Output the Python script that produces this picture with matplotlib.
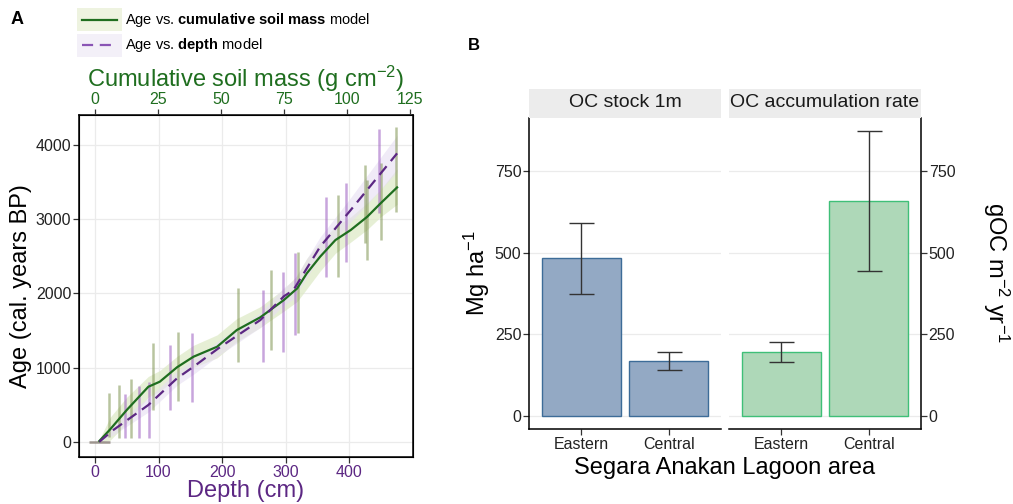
import matplotlib.pyplot as plt
from matplotlib.patches import Rectangle
from matplotlib.lines import Line2D

plt.rcParams['font.family'] = ['Liberation Sans', 'DejaVu Sans']
plt.rcParams['mathtext.fontset'] = 'custom'
plt.rcParams['mathtext.rm'] = 'Liberation Sans'
plt.rcParams['mathtext.bf'] = 'Liberation Sans:bold'
plt.rcParams['mathtext.it'] = 'Liberation Sans:italic'

# ---- panel A data (depth cm, age cal. yr BP) ----
mass_depth = [7, 24, 50, 84, 102, 129, 155, 192, 223, 260, 297, 318, 333, 354, 378, 402, 428, 449, 475]
mass_age = [10, 167, 427, 741, 809, 1003, 1146, 1280, 1505, 1677, 1910, 2067, 2269, 2494, 2718, 2853, 3032, 3213, 3428]
mass_lo = [0, 20, 250, 600, 680, 860, 1000, 1130, 1350, 1540, 1760, 1890, 2060, 2300, 2540, 2690, 2860, 3030, 3200]
mass_hi = [30, 330, 600, 880, 960, 1150, 1300, 1440, 1660, 1820, 2060, 2240, 2470, 2690, 2900, 3030, 3220, 3400, 3680]

depth_depth = [7, 29, 84, 129, 155, 194, 260, 297, 312, 354, 402, 475]
depth_age = [0, 158, 495, 854, 1011, 1258, 1640, 1960, 2044, 2628, 3122, 3887]
depth_lo = [0, 90, 400, 760, 910, 1160, 1540, 1840, 1920, 2500, 2960, 3640]
depth_hi = [20, 230, 590, 950, 1110, 1360, 1740, 2080, 2170, 2760, 3290, 4130]

# calibrated date ranges
mass_dates_d = [22, 38, 57, 92, 130, 225, 277, 319, 382, 424, 428, 450, 474]
mass_dates_lo = [67, 45, 45, 427, 553, 1078, 1236, 1461, 2224, 2674, 2449, 2719, 3100]
mass_dates_hi = [652, 764, 841, 1326, 1483, 2067, 2314, 2562, 3325, 3729, 3527, 3751, 4246]
depth_dates_d = [48, 69, 85, 118, 153, 264, 296, 315, 363, 395, 446]
depth_dates_lo = [45, 45, 45, 427, 540, 1078, 1213, 1438, 2224, 2426, 3078]
depth_dates_hi = [638, 750, 809, 1306, 1460, 2045, 2292, 2539, 3302, 3482, 4210]

# ---- panel B data ----
areas = ['Eastern', 'Central']
stock = [484, 168]
stock_lo = [374, 141]
stock_hi = [591, 194]
accum = [194, 657]
accum_lo = [164, 443]
accum_hi = [225, 873]

W, H = 1013, 504
fig = plt.figure(figsize=(W / 100, H / 100), dpi=100)


def px_axes(x0, y0, x1, y1):
    return fig.add_axes([x0 / W, 1 - y1 / H, (x1 - x0) / W, (y1 - y0) / H])


green = '#1f6e1f'
purple = '#5c2783'
tick_kw = dict(colors='#333333', labelsize=11.5, length=4, width=0.9, pad=1.5)

# ---------------- panel A ----------------
ax = px_axes(79, 115, 413, 457)
ax.fill_between(mass_depth, mass_lo, mass_hi, color='#dce9c4', alpha=0.7, lw=0)
ax.fill_between(depth_depth, depth_lo, depth_hi, color='#e6def2', alpha=0.6, lw=0)
ax.vlines(mass_dates_d, mass_dates_lo, mass_dates_hi, color='#7f9450', alpha=0.55, lw=1.8)
ax.vlines(depth_dates_d, depth_dates_lo, depth_dates_hi, color='#9b5cc0', alpha=0.55, lw=1.8)
ax.hlines([0], -9, 24, color='#8a8078', lw=1.8, alpha=0.8)
ax.plot(mass_depth, mass_age, color=green, lw=1.6)
ax.plot(depth_depth, depth_age, color=purple, lw=1.6, ls=(0, (5, 3)))
ax.set_xlim(-25, 500)
ax.set_ylim(-206, 4404)
ax.set_xticks([0, 100, 200, 300, 400])
ax.set_yticks([0, 1000, 2000, 3000, 4000])
ax.grid(color='#ebebeb', lw=0.9)
ax.set_axisbelow(True)
ax.tick_params(axis='x', labelcolor=purple, **tick_kw)
ax.tick_params(axis='y', labelcolor='#222222', **tick_kw)
ax.set_xlabel('Depth (cm)', color=purple, fontsize=17, labelpad=0)
ax.set_ylabel('Age (cal. years BP)', fontsize=17, labelpad=3)
for s in ax.spines.values():
    s.set_linewidth(1.1)

top = ax.twiny()
top.set_xlim(-6.3, 126.2)
top.set_xticks([0, 25, 50, 75, 100, 125])
top.tick_params(axis='x', labelcolor=green, **tick_kw)
top.set_xlabel('Cumulative soil mass (g cm$^{-2}$)', color=green, fontsize=17, labelpad=4)

# legend
fig.patches.append(Rectangle((77 / W, 1 - 31 / H), 45 / W, 23 / H, transform=fig.transFigure,
                             facecolor='#eef3e0', edgecolor='none'))
fig.patches.append(Rectangle((77 / W, 1 - 57 / H), 45 / W, 23 / H, transform=fig.transFigure,
                             facecolor='#f3f0f8', edgecolor='none'))
fig.lines.append(Line2D([82 / W, 117 / W], [1 - 20 / H] * 2, transform=fig.transFigure, color=green, lw=1.6))
fig.lines.append(Line2D([82 / W, 117 / W], [1 - 45 / H] * 2, transform=fig.transFigure, color='#8a55b5',
                        lw=1.6, ls=(0, (5, 3))))
fig.text(125 / W, 1 - 20 / H, r'Age vs. $\mathbf{cumulative\ soil\ mass}$ model', fontsize=10.5, va='center')
fig.text(125 / W, 1 - 45 / H, r'Age vs. $\mathbf{depth}$ model', fontsize=10.5, va='center')
fig.text(11 / W, 1 - 19 / H, 'A', fontsize=13, fontweight='bold', va='center')
fig.text(468 / W, 1 - 45 / H, 'B', fontsize=12, fontweight='bold', va='center')

# ---------------- panel B ----------------
b1 = px_axes(529, 118, 721, 429)
b2 = px_axes(729, 118, 921, 429)
x = [1, 2]
b1.bar(x, stock, width=0.9, color='#93a9c4', edgecolor='#3d6c98', lw=1)
b1.errorbar(x, stock, yerr=[[s - l for s, l in zip(stock, stock_lo)], [h - s for s, h in zip(stock, stock_hi)]],
            fmt='none', ecolor='#333333', elinewidth=1, capsize=9, capthick=1)
b2.bar(x, accum, width=0.9, color='#aed8b8', edgecolor='#3fbf78', lw=1)
b2.errorbar(x, accum, yerr=[[a - l for a, l in zip(accum, accum_lo)], [h - a for a, h in zip(accum, accum_hi)]],
            fmt='none', ecolor='#333333', elinewidth=1, capsize=9, capthick=1)

for b in (b1, b2):
    b.set_xlim(0.4, 2.6)
    b.set_ylim(-41, 913)
    b.set_xticks(x)
    b.set_xticklabels(areas)
    b.set_yticks([0, 250, 500, 750])
    b.grid(axis='y', color='#ebebeb', lw=0.9)
    b.set_axisbelow(True)
    b.tick_params(labelcolor='#222222', **tick_kw)
    b.spines['top'].set_visible(False)
    b.spines['bottom'].set_linewidth(1.1)

b1.spines['right'].set_visible(False)
b1.spines['left'].set_linewidth(1.1)
b1.set_ylabel('Mg ha$^{-1}$', fontsize=17, labelpad=2)
b2.spines['left'].set_visible(False)
b2.spines['right'].set_linewidth(1.1)
b2.yaxis.tick_right()
fig.text(981 / W, 1 - 273 / H, 'gOC m$^{-2}$ yr$^{-1}$', fontsize=17, rotation=270, ha='left', va='center')

for x0, x1, label in [(529, 721, 'OC stock 1m'), (729, 921, 'OC accumulation rate')]:
    fig.patches.append(Rectangle((x0 / W, 1 - 118 / H), (x1 - x0) / W, 29 / H, transform=fig.transFigure,
                                 facecolor='#ececec', edgecolor='none'))
    fig.text((x0 + x1) / 2 / W, 1 - 103 / H, label, fontsize=14, ha='center', va='center', color='#1a1a1a')

fig.text(725 / W, 1 - 468 / H, 'Segara Anakan Lagoon area', fontsize=17, ha='center', va='center')

fig.savefig('out.png', dpi=100)
